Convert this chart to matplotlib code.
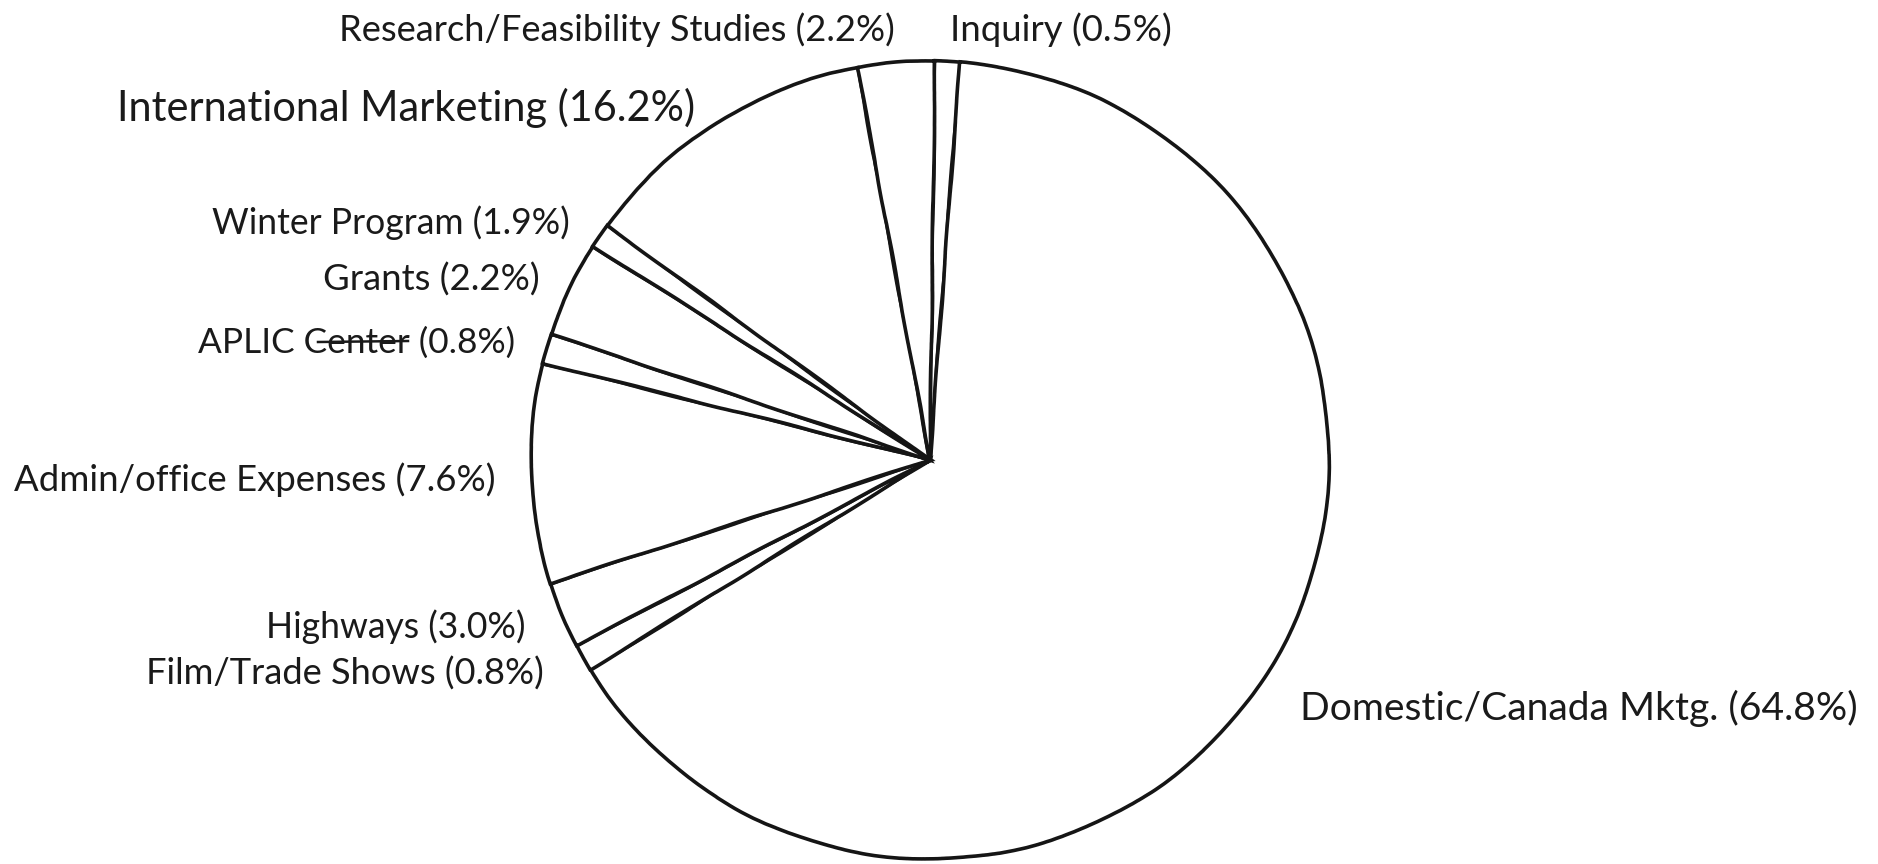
import matplotlib
matplotlib.use("Agg")
import matplotlib.pyplot as plt
from matplotlib.lines import Line2D

W, H = 1878, 864

categories = ["Inquiry", "Domestic/Canada Mktg.", "Film/Trade Shows", "Highways",
              "Admin/office Expenses", "APLIC Center", "Grants", "Winter Program",
              "International Marketing", "Research/Feasibility Studies"]
stated_pct = ["0.5%", "64.8%", "0.8%", "3.0%", "7.6%", "0.8%", "2.2%", "1.9%", "16.2%", "2.2%"]
# wedge sizes as actually drawn in the hand-made picture (percent of circle)
drawn_share = [1.0, 65.0, 1.1, 2.7, 8.9, 1.2, 3.9, 1.0, 12.1, 3.1]

# label layout in reference pixels: left edge, centre y, width
label_layout = {
    "Research/Feasibility Studies": (339, 30, 557),
    "Inquiry": (950, 30, 222),
    "International Marketing": (117, 108, 580),
    "Winter Program": (212, 223, 358),
    "Grants": (323, 280, 216),
    "APLIC Center": (198, 343, 317),
    "Admin/office Expenses": (14, 480, 482),
    "Highways": (266, 627, 259),
    "Film/Trade Shows": (146, 674, 399),
    "Domestic/Canada Mktg.": (1300, 708, 557),
}

plt.rcParams['font.family'] = ['Lato', 'DejaVu Sans']
fig = plt.figure(figsize=(W / 100, H / 100), dpi=100, facecolor="white")

cx, cy, r = 930, 460, 399
ax = fig.add_axes([(cx - r) / W, 1 - (cy + r) / H, 2 * r / W, 2 * r / H])
wedges, _ = ax.pie(drawn_share, startangle=89.3, counterclock=False, radius=1,
                   colors=["white"] * len(drawn_share),
                   wedgeprops=dict(edgecolor="#151515", linewidth=2.6))
ax.set_xlim(-1, 1)
ax.set_ylim(-1, 1)
for w in wedges:
    w.set_clip_on(False)
    w.set_sketch_params(scale=0.5, length=300, randomness=8)

renderer = fig.canvas.get_renderer()
for name, pct in zip(categories, stated_pct):
    left, yc, width = label_layout[name]
    t = fig.text(left / W, 1 - yc / H, f"{name} ({pct})", ha="left", va="center",
                 color="#1a1a1a", fontsize=20)
    ext = t.get_window_extent(renderer)
    t.set_fontsize(20 * width / ext.width)

# hand-drawn strike through the word "Center"
fig.add_artist(Line2D([318 / W, 408 / W], [1 - 342 / H, 1 - 341 / H],
                      transform=fig.transFigure, color="#1a1a1a", linewidth=1.8))

fig.savefig("out.png", dpi=100, facecolor="white")
